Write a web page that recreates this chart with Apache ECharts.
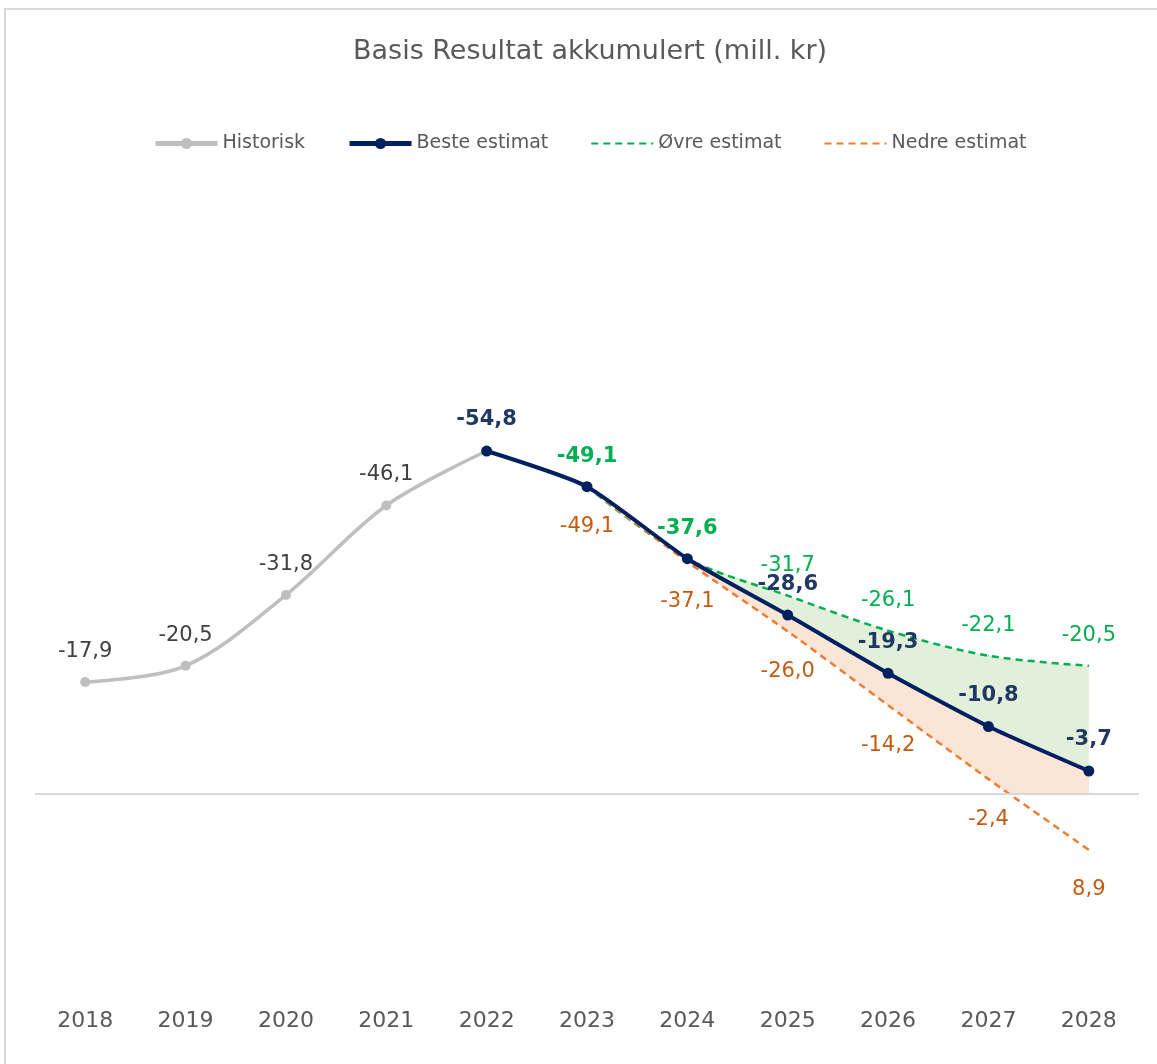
<!DOCTYPE html>
<html>
<head>
<meta charset="utf-8">
<script src="https://cdn.jsdelivr.net/npm/echarts@6/dist/echarts.min.js"></script>
<style>
  html, body { margin: 0; padding: 0; background: #fff; overflow: hidden; }
  .frame {
    position: absolute;
    left: 4px;
    top: 8px;
    right: 0;
    bottom: 0;
    border-left: 2px solid #d9d9d9;
    border-top: 2px solid #d9d9d9;
  }
  #chart { position: absolute; left: 0; top: 0; width: 1157px; height: 1064px; }
</style>
</head>
<body>
<div class="frame"></div>
<div id="chart"></div>
<script>
// data
const years = ['2018', '2019', '2020', '2021', '2022', '2023', '2024', '2025', '2026', '2027', '2028']
const historisk = [-17.9, -20.5, -31.8, -46.1, -54.8, null, null, null, null, null, null]
const beste = [null, null, null, null, -54.8, -49.1, -37.6, -28.6, -19.3, -10.8, -3.7]
const ovre = [null, null, null, null, null, -49.1, -37.6, -31.7, -26.1, -22.1, -20.5]
const nedre = [null, null, null, null, null, -49.1, -37.1, -26.0, -14.2, -2.4, 8.9]

// the shaded band starts at 2024
const fillFrom = 6

const FONT = 'DejaVu Sans'
// smoothing per series (fills reuse the same value as their line)
const SMOOTH_HIST = 0.33
const SMOOTH_BESTE = 0.2
const SMOOTH_OVRE = 0.3
const SMOOTH_NEDRE = 0.2

const fmt = (p) => (p.value == null ? '' : Number(p.value).toFixed(1).replace('.', ','))
const fillData = (arr, from) => arr.map((v, i) => (i < from ? null : v))

const chart = echarts.init(document.getElementById('chart'), null, { renderer: 'canvas' })

const labelBase = {
  show: true,
  position: 'top',
  distance: 15,
  fontFamily: FONT,
  fontSize: 21,
  formatter: fmt,
}

// historisk: no label at 2022 (beste shows it)
const historiskData = historisk.map((v, i) => (i === 4 ? { value: v, label: { show: false } } : v))
// beste: labels at 2023/2024 sit under the green ones
const besteData = beste.map((v, i) => (i === 5 || i === 6 ? { value: v, label: { show: false } } : v))
const ovreData = ovre.map((v, i) => (i === 5 || i === 6 ? { value: v, label: { fontWeight: 'bold' } } : v))

const option = {
  backgroundColor: 'transparent',
  animation: false,
  title: {
    text: 'Basis Resultat akkumulert (mill. kr)',
    left: 348,
    top: 33,
    textStyle: { fontFamily: FONT, fontSize: 27, fontWeight: 'normal', color: '#595959' },
  },
  legend: {
    left: 148,
    top: 129,
    itemWidth: 62,
    itemHeight: 14,
    itemGap: 42,
    textStyle: { fontFamily: FONT, fontSize: 19, color: '#595959' },
    data: [
      { name: 'Historisk', lineStyle: { width: 5 } },
      { name: 'Beste estimat', lineStyle: { width: 5 } },
      { name: 'Øvre estimat', itemStyle: { opacity: 0 } },
      { name: 'Nedre estimat', itemStyle: { opacity: 0 } },
    ],
  },
  grid: { left: 35, right: 18, top: 168, bottom: 82 },
  xAxis: {
    type: 'category',
    data: years,
    boundaryGap: true,
    axisLine: { show: false, onZero: false },
    axisTick: { show: false },
    axisLabel: { margin: 28, fontFamily: FONT, fontSize: 22, color: '#595959' },
  },
  yAxis: {
    type: 'value',
    inverse: true,
    min: -100,
    max: 30,
    show: false,
  },
  series: [
    // fills: green (øvre->0), orange (beste->0), white mask (nedre->0)
    {
      name: 'fill-ovre', type: 'line', data: fillData(ovre, fillFrom), smooth: SMOOTH_OVRE, symbol: 'none',
      lineStyle: { width: 0 }, areaStyle: { color: '#e2efda', opacity: 1 }, z: 1, silent: true,
    },
    {
      name: 'fill-beste', type: 'line', data: fillData(beste, fillFrom), smooth: SMOOTH_BESTE, symbol: 'none',
      lineStyle: { width: 0 }, areaStyle: { color: '#fbe5d6', opacity: 1 }, z: 1, silent: true,
    },
    {
      name: 'fill-nedre', type: 'line', data: fillData(nedre, fillFrom - 1), smooth: SMOOTH_NEDRE, symbol: 'none',
      lineStyle: { width: 0 }, areaStyle: { color: '#ffffff', opacity: 1 }, z: 1, silent: true,
    },
    {
      name: 'Historisk', type: 'line', data: historiskData, smooth: SMOOTH_HIST,
      symbol: 'circle', symbolSize: 10,
      lineStyle: { color: '#bfbfbf', width: 3.5 },
      itemStyle: { color: '#bfbfbf' },
      label: { ...labelBase, color: '#404040' },
      z: 3,
      markLine: {
        silent: true, symbol: 'none', label: { show: false },
        lineStyle: { color: '#d9d9d9', width: 2, type: 'solid' },
        data: [{ yAxis: 0 }],
      },
    },
    {
      name: 'Øvre estimat', type: 'line', data: ovreData, smooth: SMOOTH_OVRE,
      symbol: 'circle', symbolSize: 1,
      lineStyle: { color: '#00b050', width: 2.5, type: [7, 5] },
      itemStyle: { color: '#00b050' },
      label: { ...labelBase, distance: 19, color: '#00b050' },
      z: 4,
    },
    {
      name: 'Nedre estimat', type: 'line', data: nedre, smooth: SMOOTH_NEDRE,
      symbol: 'circle', symbolSize: 1,
      lineStyle: { color: '#ed7d31', width: 2.5, type: [7, 5] },
      itemStyle: { color: '#ed7d31' },
      label: { ...labelBase, position: 'bottom', distance: 29, color: '#c55a11' },
      z: 4,
    },
    {
      name: 'Beste estimat', type: 'line', data: besteData, smooth: SMOOTH_BESTE,
      symbol: 'circle', symbolSize: 11,
      lineStyle: { color: '#002060', width: 4 },
      itemStyle: { color: '#002060' },
      label: { ...labelBase, color: '#1f3864', fontWeight: 'bold' },
      z: 5,
    },
  ],
}

chart.setOption(option)
</script>
</body>
</html>
